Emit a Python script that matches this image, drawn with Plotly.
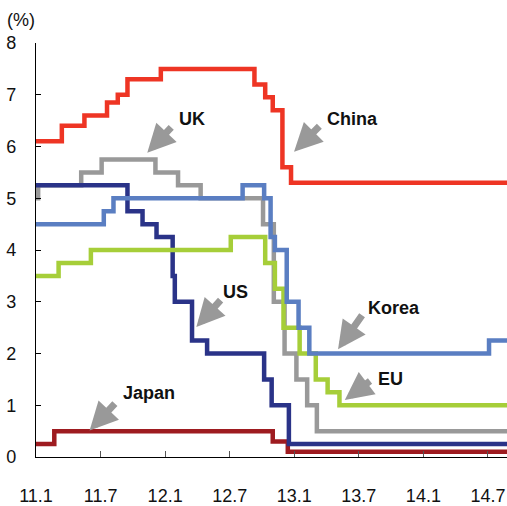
import plotly.graph_objects as go

# Month offsets from Jan 2011 (0 = 11.1) where each policy rate changes
china_x = [0, 2.4, 4.5, 6.6, 7.6, 8.5, 11.6, 20.3, 21.3, 22.0, 22.9, 23.7]
china_y = [6.1, 6.4, 6.6, 6.85, 7.0, 7.3, 7.5, 7.2, 6.95, 6.7, 5.6, 5.3]

uk_x = [0, 0.2, 4.2, 6.1, 11.1, 13.2, 15.3, 21.1, 22.1, 23.1, 24.2, 25.2, 26.1]
uk_y = [5.0, 5.25, 5.5, 5.75, 5.5, 5.25, 5.0, 4.5, 3.0, 2.0, 1.5, 1.0, 0.5]

us_x = [0, 8.5, 9.9, 11.2, 12.7, 12.9, 14.5, 15.9, 21.2, 21.9, 23.5]
us_y = [5.25, 4.75, 4.5, 4.25, 3.5, 3.0, 2.25, 2.0, 1.5, 1.0, 0.25]

korea_x = [0, 6.3, 7.2, 19.2, 21.2, 21.8, 22.2, 23.3, 24.4, 25.4, 42.1]
korea_y = [4.5, 4.75, 5.0, 5.25, 5.0, 4.25, 4.0, 3.0, 2.5, 2.0, 2.25]

eu_x = [0, 2.1, 5.1, 18.1, 21.3, 22.2, 23.0, 24.5, 26.0, 27.1, 28.2]
eu_y = [3.5, 3.75, 4.0, 4.25, 3.75, 3.25, 2.5, 2.0, 1.5, 1.25, 1.0]

japan_x = [0, 1.7, 22.0, 23.4]
japan_y = [0.25, 0.5, 0.3, 0.1]

x_end = 43.77
tick_months = [0, 6, 12, 18, 24, 30, 36, 42]
tick_labels = ["11.1", "11.7", "12.1", "12.7", "13.1", "13.7", "14.1", "14.7"]

series = [
    ("UK", uk_x, uk_y, "#999999"),
    ("Japan", japan_x, japan_y, "#9E1B20"),
    ("US", us_x, us_y, "#2A3388"),
    ("EU", eu_x, eu_y, "#A6CE39"),
    ("Korea", korea_x, korea_y, "#5A7EC2"),
    ("China", china_x, china_y, "#EE3524"),
]

fig = go.Figure()
for name, xs, ys, color in series:
    fig.add_trace(go.Scatter(
        x=xs + [x_end], y=ys + [ys[-1]], name=name, mode="lines",
        line=dict(color=color, width=4.5, shape="hv"),
        showlegend=False, hoverinfo="skip",
    ))

# Country labels with grey pointer arrows (tail -> tip, data coords)
labels = [
    ("UK", 14.53, 6.53, (12.7, 6.40), (10.34, 5.88)),
    ("China", 29.41, 6.54, (26.47, 6.42), (23.98, 5.90)),
    ("US", 18.53, 3.19, (17.28, 3.06), (14.9, 2.51)),
    ("Japan", 10.49, 1.23, (7.46, 1.06), (4.98, 0.51)),
    ("Korea", 33.26, 2.88, (30.4, 2.77), (28.07, 2.08)),
    ("EU", 32.98, 1.51, (31.18, 1.49), (28.7, 1.10)),
]
for text, tx, ty, tail, tip in labels:
    fig.add_annotation(
        x=tip[0], y=tip[1], ax=tail[0], ay=tail[1], axref="x", ayref="y",
        xref="x", yref="y", text="", showarrow=True,
        arrowhead=2, arrowsize=0.8, arrowwidth=7, arrowcolor="#999999",
    )
    fig.add_annotation(
        x=tx, y=ty, xref="x", yref="y", text=f"<b>{text}</b>", showarrow=False,
        font=dict(family="Liberation Sans, Arial", size=18, color="#111111"),
    )

fig.add_annotation(
    x=0, y=1, xref="paper", yref="paper", xanchor="left", yanchor="bottom",
    xshift=-31, yshift=11, text="(%)", showarrow=False,
    font=dict(family="Liberation Sans, Arial", size=18, color="#111111"),
)

fig.update_layout(
    width=507, height=506,
    margin=dict(l=36, r=0, t=43, b=47),
    plot_bgcolor="white", paper_bgcolor="white",
    font=dict(family="Liberation Sans, Arial", size=17, color="#111111"),
    xaxis=dict(
        range=[0, x_end], tickvals=tick_months, ticktext=tick_labels,
        showgrid=False, zeroline=False, showline=True, linecolor="black",
        linewidth=1.3, ticks="inside", ticklen=6, tickcolor="#555555",
        ticklabelstandoff=22, tickfont=dict(size=18),
    ),
    yaxis=dict(
        range=[0, 8], dtick=1, showgrid=False, zeroline=False, showline=True,
        linecolor="black", linewidth=1.3, ticks="inside", ticklen=5,
        tickcolor="black", ticklabelstandoff=15, tickfont=dict(size=18),
    ),
)

fig.write_html("out.html")
